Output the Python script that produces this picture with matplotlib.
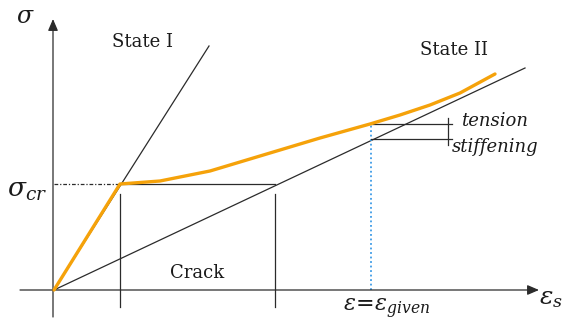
import matplotlib.pyplot as plt

plt.rcParams['mathtext.fontset'] = 'dejavuserif'

# strain (x) / stress (y) in arbitrary units
state1_eps = [0.0, 1.55]
state1_sig = [0.0, 2.44]
state2_eps = [0.0, 4.71]
state2_sig = [0.0, 2.22]

eps_cr = 0.66
sig_cr = 1.06
eps_crack_end = 2.21

# steel response with tension stiffening
curve_eps = [0.0, 0.66, 1.06, 1.56, 1.86, 2.26, 2.66, 3.16, 3.46, 3.76, 4.06, 4.41]
curve_sig = [0.0, 1.06, 1.09, 1.19, 1.28, 1.40, 1.52, 1.66, 1.75, 1.85, 1.97, 2.16]

eps_given = 3.17
sig_given_curve = 1.66
sig_given_state2 = 1.51

black = '#2b2b2b'
txt = '#1a1a1a'
orange = '#f5a20a'

fig = plt.figure(figsize=(5.7, 3.2), dpi=100)
ax = fig.add_axes([0, 0, 1, 1])
ax.set_xlim(-0.54, 5.16)
ax.set_ylim(-0.30, 2.90)
ax.axis('off')

# axes with arrows
ax.annotate('', xy=(4.85, 0), xytext=(-0.34, 0),
            arrowprops=dict(arrowstyle='-|>,head_length=0.7,head_width=0.3',
                            color=black, lw=0.9, shrinkA=0, shrinkB=0))
ax.annotate('', xy=(-0.01, 2.71), xytext=(-0.01, -0.27),
            arrowprops=dict(arrowstyle='-|>,head_length=0.7,head_width=0.3',
                            color=black, lw=0.9, shrinkA=0, shrinkB=0))

ax.plot(state1_eps, state1_sig, color=black, lw=0.9)
ax.plot(state2_eps, state2_sig, color=black, lw=0.9)

# cracking level
ax.plot([0, eps_cr], [sig_cr, sig_cr], color=black, lw=0.9, dashes=(3, 1.5, 1, 1.5))
ax.plot([eps_cr, eps_crack_end], [sig_cr, sig_cr], color=black, lw=0.9)
ax.plot([eps_cr, eps_cr], [-0.17, sig_cr - 0.10], color=black, lw=0.9)
ax.plot([eps_crack_end, eps_crack_end], [-0.17, sig_cr - 0.10], color=black, lw=0.9)

ax.plot(curve_eps, curve_sig, color=orange, lw=2.4, solid_capstyle='round',
        solid_joinstyle='round', zorder=5)

# given strain and tension stiffening bracket
ax.plot([eps_given, eps_given], [0, sig_given_curve], color='#3d9be6', lw=1.3,
        ls=(0, (1, 1.5)))
bx = 3.94
ax.plot([eps_given, bx + 0.04], [sig_given_curve, sig_given_curve], color=black, lw=0.9)
ax.plot([eps_given, bx + 0.04], [sig_given_state2, sig_given_state2], color=black, lw=0.9)
ax.plot([bx, bx], [sig_given_state2 - 0.06, sig_given_curve + 0.06], color=black, lw=0.9)

serif = 'DejaVu Serif'
ax.text(0.89, 2.48, 'State I', family=serif, fontsize=13, ha='center', va='center',
        color=txt)
ax.text(4.00, 2.40, 'State II', family=serif, fontsize=13, ha='center', va='center',
        color=txt)
ax.text((eps_cr + eps_crack_end) / 2, 0.17, 'Crack', family=serif, fontsize=13,
        ha='center', va='center', color=txt)
ax.text(4.07, 1.69, 'tension', family=serif, style='italic', fontsize=13,
        ha='left', va='center', color=txt)
ax.text(3.98, 1.43, 'stiffening', family=serif, style='italic', fontsize=13,
        ha='left', va='center', color=txt)

ax.text(-0.29, 2.74, r'$\sigma$', fontsize=17, ha='center', va='center', color=txt)
ax.text(-0.27, 1.00, r'$\sigma_{cr}$', fontsize=19, ha='center', va='center', color=txt)
ax.text(eps_given + 0.16, -0.19, r'$\varepsilon\!=\!\varepsilon_{given}$', fontsize=16,
        ha='center', va='center', color=txt)
ax.text(4.97, -0.08, r'$\varepsilon_s$', fontsize=18, ha='center', va='center', color=txt)

fig.savefig('out.png', dpi=100)
